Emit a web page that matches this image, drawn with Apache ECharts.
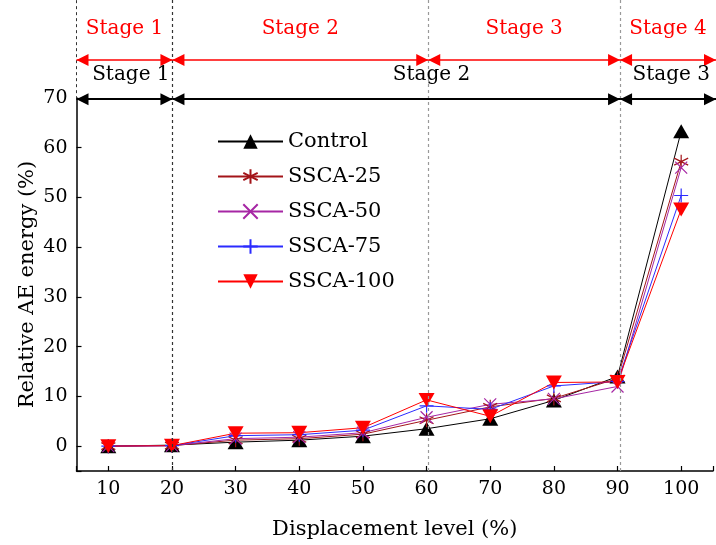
<!DOCTYPE html>
<html>
<head>
<meta charset="utf-8">
<script src="https://cdn.jsdelivr.net/npm/echarts@6/dist/echarts.min.js"></script>
<style>
  html, body { margin: 0; padding: 0; background: #fff; }
  #chart { width: 716px; height: 545px; }
</style>
</head>
<body>
<div id="chart"></div>
<script>
// Displacement levels (%) on the x axis
const levels = [10, 20, 30, 40, 50, 60, 70, 80, 90, 100];

// Relative AE energy (%) for each mix
const control = [0, 0.2, 0.8, 1.2, 2.0, 3.5, 5.5, 9.2, 14.0, 63.3];
const ssca25  = [0, 0.1, 1.2, 1.5, 2.4, 5.2, 7.9, 9.6, 13.6, 57.2];
const ssca50  = [0, 0.1, 1.5, 1.8, 2.7, 5.8, 8.4, 9.5, 12.0, 56.0];
const ssca75  = [0, 0.1, 2.1, 2.3, 3.2, 8.1, 7.4, 12.1, 13.0, 50.4];
const ssca100 = [0, 0.1, 2.6, 2.7, 3.7, 9.3, 6.0, 12.8, 12.9, 47.6];

const seriesNames = ['Control', 'SSCA-25', 'SSCA-50', 'SSCA-75', 'SSCA-100'];

// Stage divisions along the displacement axis
const fourStageSpans  = [[5, 20], [20, 60], [60, 90], [90, 105]];
const fourStageLabels = ['Stage 1', 'Stage 2', 'Stage 3', 'Stage 4'];
const threeStageSpans  = [[5, 20], [20, 90], [90, 105]];
const threeStageLabels = ['Stage 1', 'Stage 2', 'Stage 3'];
const threeStageLabelAt = [13.5, 60.5, 98];
const boundaries = [20, 60, 90];

const FONT = 'DejaVu Serif';
const GRID_LEFT = 76.5, GRID_WIDTH = 644;

const pair = vals => levels.map((x, i) => [x, vals[i]]);

const ASTERISK = 'path://M5,0L5,10M0.67,2.5L9.33,7.5M0.67,7.5L9.33,2.5';
const CROSS = 'path://M0,0L10,10M0,10L10,0';
const PLUS = 'path://M5,0L5,10M0,5L10,5';

function dataSeries(name, vals, color, symbol, size, rotate, strokeOnly) {
  return {
    name, type: 'line', xAxisIndex: 0, yAxisIndex: 0,
    data: pair(vals),
    symbol, symbolSize: size, symbolRotate: rotate || 0,
    showAllSymbol: true,
    lineStyle: { color, width: 1 },
    itemStyle: strokeOnly ? { color, borderColor: color, borderWidth: 1.2 } : { color },
    emphasis: { disabled: true },
    z: 3
  };
}

// Stage annotation labels above the plot
const stageText = [];
fourStageSpans.forEach((s, i) => stageText.push({
  value: [(s[0] + s[1]) / 2, 84.1], name: fourStageLabels[i],
  label: { color: '#ff0000' }
}));
threeStageLabels.forEach((t, i) => stageText.push({
  value: [threeStageLabelAt[i], 74.9], name: t,
  label: { color: '#000000' }
}));

// vertical dashed boundaries
const dashedLines = boundaries.map(b => ({
  xAxis: b,
  lineStyle: { color: b === 20 ? '#333' : '#999', type: [3, 3], width: 1.2 }
}));
dashedLines.push([
  { coord: [5, 70], lineStyle: { color: '#333', type: [3, 3], width: 1 } },
  { coord: [5, 90] }
]);

// double-headed stage arrows
const arrowLines = [];
fourStageSpans.forEach(s => arrowLines.push([
  { coord: [s[0], 77.9], lineStyle: { color: '#ff0000', type: 'solid', width: 1.5 } },
  { coord: [s[1], 77.9] }
]));
threeStageSpans.forEach(s => arrowLines.push([
  { coord: [s[0], 70], lineStyle: { color: '#000', type: 'solid', width: 2 } },
  { coord: [s[1], 70] }
]));

const chart = echarts.init(document.getElementById('chart'));
chart.setOption({
  animation: false,
  backgroundColor: '#fff',
  textStyle: { fontFamily: FONT },
  grid: [
    { left: GRID_LEFT, top: 98, width: GRID_WIDTH, height: 373, containLabel: false },
    { left: GRID_LEFT, top: 0, width: GRID_WIDTH, height: 471, containLabel: false }
  ],
  xAxis: [
    {
      type: 'value', gridIndex: 0, min: 5, max: 105, splitNumber: 10,
      name: 'Displacement level (%)', nameLocation: 'middle', nameGap: 48,
      nameMoveOverlap: false,
      nameTextStyle: { fontFamily: FONT, fontSize: 21, color: '#000', verticalAlign: 'top' },
      axisLine: { onZero: false, lineStyle: { color: '#000', width: 1.5 } },
      axisTick: { inside: true, length: 5, lineStyle: { color: '#000', width: 1.2 } },
      axisLabel: {
        fontFamily: FONT, fontSize: 19, color: '#000', margin: 9,
        formatter: v => (v % 10 === 0 && v >= 10 && v <= 100) ? String(v) : ''
      },
      splitLine: { show: false }
    },
    {
      type: 'value', gridIndex: 1, min: 5, max: 105, show: false
    }
  ],
  yAxis: [
    {
      type: 'value', gridIndex: 0, min: -5, max: 70, splitNumber: 7,
      name: 'Relative AE energy (%)', nameLocation: 'middle', nameGap: 38,
      nameMoveOverlap: false,
      nameTextStyle: { fontFamily: FONT, fontSize: 21, color: '#000' },
      axisLine: { show: true, onZero: false, lineStyle: { color: '#000', width: 1.5 } },
      axisTick: { show: true, inside: true, length: 5, lineStyle: { color: '#000', width: 1.2 } },
      axisLabel: {
        fontFamily: FONT, fontSize: 19, color: '#000', margin: 9,
        formatter: v => (v % 10 === 0 && v >= 0) ? String(v) : ''
      },
      splitLine: { show: false }
    },
    {
      type: 'value', gridIndex: 1, min: -5, max: 90, show: false
    }
  ],
  legend: {
    data: seriesNames,
    orient: 'vertical',
    left: 212, top: 126,
    itemWidth: 65, itemHeight: 18, itemGap: 14,
    textStyle: { fontFamily: FONT, fontSize: 21, color: '#000' },
    backgroundColor: 'transparent'
  },
  series: [
    {
      name: 'boundaries', type: 'line', xAxisIndex: 1, yAxisIndex: 1,
      data: [], silent: true, z: 1,
      markLine: {
        silent: true, animation: false,
        symbol: ['none', 'none'],
        label: { show: false },
        emphasis: { disabled: true },
        data: dashedLines
      }
    },
    {
      name: 'stages', type: 'scatter', xAxisIndex: 1, yAxisIndex: 1,
      data: stageText, symbolSize: 0, silent: true, z: 5,
      itemStyle: { opacity: 1 },
      label: {
        show: true, position: 'inside', fontFamily: FONT, fontSize: 20,
        opacity: 1, textBorderWidth: 0, textShadowBlur: 0,
        formatter: p => p.name
      },
      markLine: {
        silent: true, animation: false,
        symbol: ['triangle', 'triangle'],
        symbolSize: 12,
        symbolOffset: [[0, 6], [0, 6]],
        label: { show: false },
        emphasis: { disabled: true },
        data: arrowLines
      }
    },
    dataSeries('Control', control, '#000000', 'triangle', [16, 14]),
    dataSeries('SSCA-25', ssca25, '#a31419', ASTERISK, 14, 0, true),
    dataSeries('SSCA-50', ssca50, '#a626a4', CROSS, 12, 0, true),
    dataSeries('SSCA-75', ssca75, '#2b2bff', PLUS, 14, 0, true),
    dataSeries('SSCA-100', ssca100, '#ff0000', 'triangle', [16, 14], 180)
  ]
});
</script>
</body>
</html>
